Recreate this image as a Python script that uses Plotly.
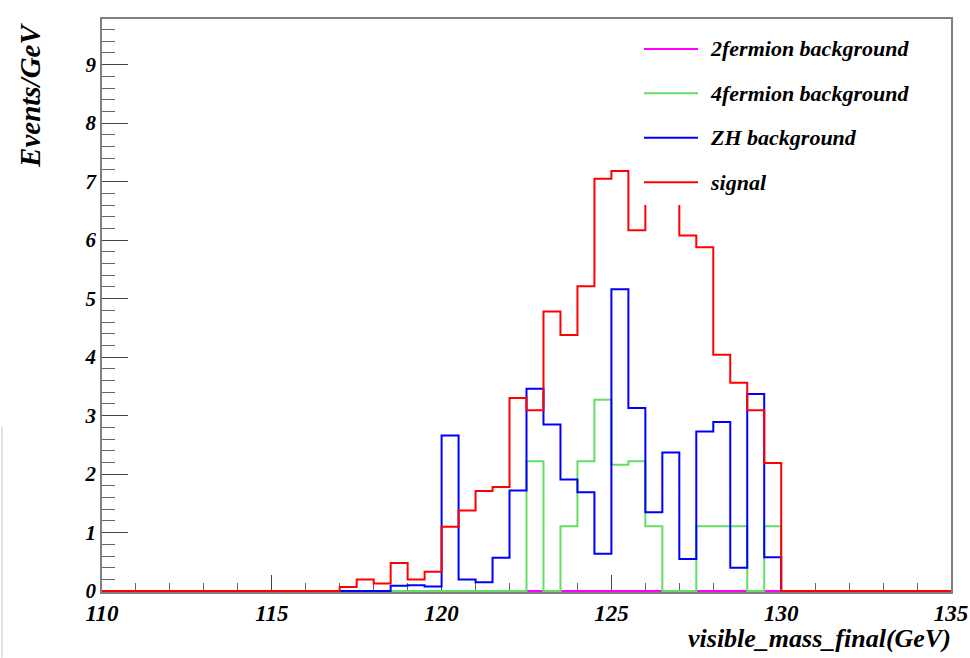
import plotly.graph_objects as go

# ---------------- data ----------------
x_start = 110.0
bin_width = 0.5
n_bins = 50
first_filled = 117.0  # lower edge of the first listed bin below

series_names = ["2fermion background", "4fermion background", "ZH background", "signal"]
series_colors = ["#ff00ff", "#66dd66", "#0000ff", "#ff0000"]

# values per 0.5 GeV bin from 117.0 to 130.0 (26 bins); all other bins are zero
fermion2_vals = [0.0] * 26
fermion4_vals = [0.0, 0.0, 0.0, 0.0, 0.0, 0.0, 0.0, 0.0, 0.0, 0.0,
                 0.0, 2.22, 0.0, 1.11, 2.22, 3.27, 2.16, 2.22, 1.11, 0.0,
                 0.0, 1.11, 1.11, 1.11, 0.0, 1.11]
zh_vals = [0.0, 0.0, 0.0, 0.09, 0.10, 0.08, 2.66, 0.20, 0.15, 0.57,
           1.72, 3.46, 2.85, 1.91, 1.69, 0.64, 5.16, 3.13, 1.35, 2.37,
           0.55, 2.73, 2.89, 0.40, 3.37, 0.58]
signal_vals = [0.07, 0.20, 0.13, 0.48, 0.20, 0.33, 1.10, 1.38, 1.71, 1.78,
               3.30, 3.09, 4.78, 4.38, 5.21, 7.05, 7.18, 6.17, 7.30, 6.90,
               6.08, 5.88, 4.04, 3.56, 3.09, 2.19]

x_ticks = [110, 115, 120, 125, 130, 135]
y_ticks = [0, 1, 2, 3, 4, 5, 6, 7, 8, 9]

# ---------------- helpers ----------------
edges = [x_start + i * bin_width for i in range(n_bins + 1)]
offset = int(round((first_filled - x_start) / bin_width))


def full(vals):
    arr = [0.0] * n_bins
    for i, v in enumerate(vals):
        arr[offset + i] = v
    return arr


W, H = 970, 658
L, R, T, B = 102, 951, 19, 592.3


def px(xp):
    return (xp - L) / (R - L)


def py(yp):
    return (B - yp) / (B - T)


font_family = "Liberation Serif"


def tfont(size):
    return dict(family=font_family, size=size, color="black",
                weight="bold", style="italic")


fig = go.Figure()
for name, color, vals in zip(series_names, series_colors,
                             [fermion2_vals, fermion4_vals, zh_vals, signal_vals]):
    y = full(vals)
    fig.add_trace(go.Scatter(
        x=edges, y=y + [y[-1]], mode="lines", line_shape="hv",
        line=dict(color=color, width=2), name=name, showlegend=False,
        hoverinfo="skip"))

shapes = []
annotations = []

# legend box (white, covers the plot beneath like a ROOT TLegend)
shapes.append(dict(type="rect", xref="paper", yref="paper",
                   x0=px(635), x1=px(940), y0=py(205), y1=py(21),
                   fillcolor="white", line=dict(width=0), layer="above"))
leg_y = [49, 93.3, 137.7, 182.3]
for name, color, yy in zip(series_names, series_colors, leg_y):
    shapes.append(dict(type="line", xref="paper", yref="paper",
                       x0=px(644), x1=px(698), y0=py(yy), y1=py(yy),
                       line=dict(color=color, width=2), layer="above"))
    annotations.append(dict(text=name, xref="paper", yref="paper",
                            x=px(708), y=py(yy), xanchor="left", yanchor="middle",
                            showarrow=False, font=tfont(22)))

# axis titles
annotations.append(dict(text="visible_mass_final(GeV)", xref="paper", yref="paper",
                        x=px(953), y=py(639), xanchor="right", yanchor="middle",
                        showarrow=False, font=tfont(26)))
annotations.append(dict(text="Events/GeV", xref="paper", yref="paper",
                        x=px(30), y=py(96), xanchor="center", yanchor="middle",
                        textangle=-90, showarrow=False, font=tfont(29)))

# faint vertical line at the far left edge of the picture
shapes.append(dict(type="line", xref="paper", yref="paper",
                   x0=px(2), x1=px(2), y0=py(427), y1=py(658),
                   line=dict(color="#d8d8d8", width=1.5), layer="above"))

fig.update_layout(
    template="none",
    width=W, height=H, autosize=False,
    margin=dict(l=L, r=W - R, t=T, b=H - B, pad=0),
    paper_bgcolor="white", plot_bgcolor="white",
    showlegend=False,
    shapes=shapes, annotations=annotations,
    xaxis=dict(range=[110, 135], tickvals=x_ticks, ticktext=[str(v) for v in x_ticks],
               ticks="inside", ticklen=17, tickwidth=1, tickcolor="#444",
               minor=dict(dtick=1, tick0=110, ticks="inside", ticklen=9,
                          tickcolor="#666", tickwidth=1, showgrid=False),
               showline=True, linecolor="#808080", linewidth=1.5, mirror=True,
               showgrid=False, zeroline=False, tickfont=tfont(23),
               automargin=False, layer="below traces", fixedrange=True),
    yaxis=dict(range=[-0.015, 9.78], tickvals=y_ticks, ticktext=[str(v) for v in y_ticks],
               ticks="inside", ticklen=26, tickwidth=1, tickcolor="#444",
               minor=dict(dtick=0.2, tick0=0, ticks="inside", ticklen=13,
                          tickcolor="#666", tickwidth=1, showgrid=False),
               showline=True, linecolor="#808080", linewidth=1.5, mirror=True,
               showgrid=False, zeroline=False, tickfont=tfont(21),
               automargin=False, layer="below traces", fixedrange=True),
)

fig.write_html("out.html", config={"displayModeBar": False, "responsive": False})
